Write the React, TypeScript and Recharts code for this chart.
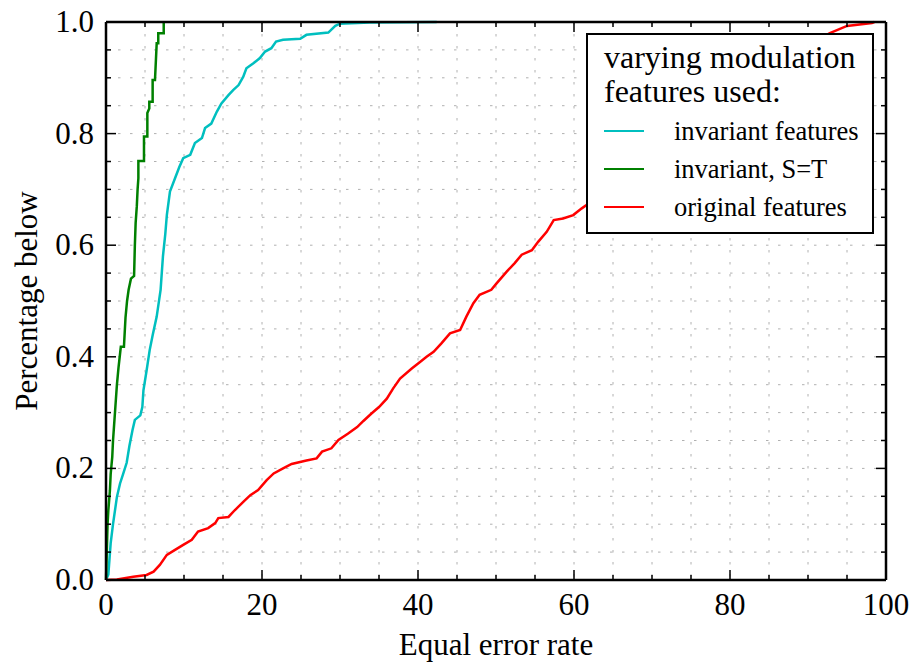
import React from 'react';
import { LineChart, Line, XAxis, YAxis, CartesianGrid, Legend, ReferenceLine } from 'recharts';

// cumulative share of trials whose equal error rate is below x
const invariantEer = [
  0, 0.3, 0.6, 0.9, 1.4, 1.8, 2.2, 2.65, 3.0, 3.4, 3.7, 4.4, 4.66, 4.8, 5.2, 5.6, 6.0, 6.5, 7.0, 7.3,
  7.6, 7.8, 8.2, 8.85, 9.4, 9.9, 10.8, 11.4, 12.3, 12.7, 13.5, 14.2, 14.8, 15.7, 16.3, 17.0, 17.6, 18.0,
  18.9, 19.7, 20.4, 21.2, 21.8, 22.7, 24.9, 25.7, 28.5, 29.4, 30.0, 33.8, 42.4,
];
const invariantFrac = [
  0, 0.01, 0.066, 0.1, 0.149, 0.173, 0.19, 0.21, 0.24, 0.269, 0.287, 0.295, 0.31, 0.34, 0.375, 0.412,
  0.44, 0.472, 0.52, 0.58, 0.62, 0.654, 0.696, 0.72, 0.74, 0.756, 0.762, 0.783, 0.792, 0.81, 0.818,
  0.839, 0.854, 0.869, 0.878, 0.887, 0.902, 0.917, 0.926, 0.935, 0.947, 0.953, 0.965, 0.968, 0.97,
  0.977, 0.981, 0.993, 0.997, 0.999, 1.0,
];

const invariantSTEer = [
  0, 0.1, 0.2, 0.3, 0.5, 0.6, 0.8, 0.9, 1.0, 1.2, 1.4, 1.6, 1.9, 2.3, 2.5, 2.7, 2.9, 3.2, 3.6, 3.7,
  3.8, 3.95, 4.05, 4.15, 4.15, 4.87, 4.87, 5.3, 5.3, 5.55, 5.55, 5.98, 5.98, 6.28, 6.5, 6.7, 6.7, 7.4,
  7.4,
];
const invariantSTFrac = [
  0, 0.05, 0.1, 0.125, 0.16, 0.19, 0.22, 0.25, 0.27, 0.31, 0.35, 0.38, 0.418, 0.418, 0.47, 0.5, 0.52,
  0.54, 0.545, 0.6, 0.64, 0.67, 0.7, 0.72, 0.751, 0.751, 0.795, 0.795, 0.837, 0.845, 0.857, 0.857,
  0.896, 0.896, 0.962, 0.962, 0.98, 0.98, 1.0,
];

const originalEer = [
  0, 1.4, 3.5, 5.2, 6.1, 6.9, 7.8, 8.85, 9.9, 11.0, 11.8, 13.1, 14.0, 14.4, 15.7, 16.5, 17.6, 18.5,
  19.5, 20.6, 21.5, 22.7, 23.8, 25.7, 27.0, 27.7, 28.9, 29.8, 31.0, 32.2, 33.0, 34.0, 35.0, 36.0, 36.8,
  37.7, 39.2, 40.3, 41.1, 42.0, 43.0, 44.1, 45.4, 46.2, 47.1, 47.9, 49.4, 50.1, 51.4, 52.4, 53.3, 54.6,
  55.4, 56.5, 57.4, 58.6, 59.9, 61.0, 61.6, 64.0, 68.0, 72.0, 76.0, 80.0, 84.0, 88.0, 91.5, 92.8, 95.0,
  98.2, 98.5,
];
const originalFrac = [
  0, 0.001, 0.006, 0.009, 0.015, 0.027, 0.045, 0.054, 0.063, 0.072, 0.087, 0.093, 0.102, 0.111, 0.113,
  0.125, 0.14, 0.152, 0.161, 0.179, 0.191, 0.2, 0.208, 0.214, 0.218, 0.23, 0.236, 0.251, 0.262, 0.274,
  0.285, 0.298, 0.31, 0.325, 0.343, 0.361, 0.379, 0.391, 0.4, 0.409, 0.424, 0.442, 0.448, 0.472, 0.496,
  0.511, 0.52, 0.532, 0.553, 0.568, 0.583, 0.591, 0.606, 0.624, 0.645, 0.648, 0.654, 0.666, 0.672, 0.7,
  0.74, 0.78, 0.82, 0.86, 0.9, 0.94, 0.97, 0.98, 0.993, 0.998, 1.0,
];

const xTicks = [0, 5, 10, 15, 20, 25, 30, 35, 40, 45, 50, 55, 60, 65, 70, 75, 80, 85, 90, 95, 100];
const xLabelled = [0, 20, 40, 60, 80, 100];
const yTicks = [
  0, 0.05, 0.1, 0.15, 0.2, 0.25, 0.3, 0.35, 0.4, 0.45, 0.5, 0.55, 0.6, 0.65, 0.7, 0.75, 0.8, 0.85, 0.9,
  0.95, 1.0,
];
const yLabelled = [0, 0.2, 0.4, 0.6, 0.8, 1.0];

const zip = (xs: number[], ys: number[]) => xs.map((x, i) => ({ x, y: ys[i] }));

const WIDTH = 912;
const HEIGHT = 662;
const MARGIN = { top: 22, right: 26, bottom: 22, left: 36 };
const Y_AXIS_W = 70;
const X_AXIS_H = 60;
const PLOT_W = WIDTH - MARGIN.left - MARGIN.right - Y_AXIS_W;
const PLOT_H = HEIGHT - MARGIN.top - MARGIN.bottom - X_AXIS_H;

const FONT = '"Liberation Serif", "Times New Roman", serif';
const TICK_FONT = 31;

// inward ticks on bottom + mirrored on top
const XTick = (props: any) => {
  const { x, y, payload } = props;
  const major = xLabelled.includes(payload.value);
  const len = major ? 10 : 5;
  return (
    <g>
      <line x1={x} y1={y} x2={x} y2={y - len} stroke="#000" strokeWidth={1.5} />
      <line x1={x} y1={y - PLOT_H} x2={x} y2={y - PLOT_H + len} stroke="#000" strokeWidth={1.5} />
      {major && (
        <text x={x} y={y + 35} textAnchor="middle" fontSize={TICK_FONT} fontFamily={FONT} fill="#000">
          {payload.value}
        </text>
      )}
    </g>
  );
};

// inward ticks on left + mirrored on right
const YTick = (props: any) => {
  const { x, y, payload } = props;
  const major = yLabelled.some((v) => Math.abs(v - payload.value) < 1e-9);
  const len = major ? 10 : 5;
  return (
    <g>
      <line x1={x} y1={y} x2={x + len} y2={y} stroke="#000" strokeWidth={1.5} />
      <line x1={x + PLOT_W} y1={y} x2={x + PLOT_W - len} y2={y} stroke="#000" strokeWidth={1.5} />
      {major && (
        <text x={x - 12} y={y + 10} textAnchor="end" fontSize={TICK_FONT} fontFamily={FONT} fill="#000">
          {payload.value.toFixed(1)}
        </text>
      )}
    </g>
  );
};

const XLabel = (props: any) => {
  const { viewBox } = props;
  return (
    <text x={viewBox.x + viewBox.width / 2} y={655} textAnchor="middle" fontSize={31} fontFamily={FONT} fill="#000">
      Equal error rate
    </text>
  );
};

const YLabel = (props: any) => {
  const { viewBox } = props;
  const cy = viewBox.y + viewBox.height / 2;
  return (
    <text
      x={37}
      y={cy}
      transform={`rotate(-90, 37, ${cy})`}
      textAnchor="middle"
      fontSize={31}
      fontFamily={FONT}
      fill="#000"
    >
      Percentage below
    </text>
  );
};

const LegendBox = (props: any) => {
  const payload = props.payload || [];
  return (
    <div
      style={{
        boxSizing: 'border-box',
        width: 288,
        height: 201,
        border: '2.5px solid #000',
        background: '#fff',
        padding: '5px 0 0 16px',
        fontFamily: FONT,
        color: '#000',
      }}
    >
      <div style={{ fontSize: 32, lineHeight: '34px' }}>
        varying modulation
        <br />
        features used:
      </div>
      <div style={{ marginTop: 4 }}>
        {payload.map((entry: any) => (
          <div key={entry.value} style={{ display: 'flex', alignItems: 'center', height: 38, fontSize: 26.5 }}>
            <span style={{ display: 'inline-block', width: 40, borderTop: `2.5px solid ${entry.color}`, marginRight: 30 }} />
            <span>{entry.value}</span>
          </div>
        ))}
      </div>
    </div>
  );
};

export default function App() {
  return (
    <div style={{ position: 'absolute', left: 0, top: 0, background: '#fff' }}>
      <LineChart width={WIDTH} height={HEIGHT} margin={MARGIN}>
        <CartesianGrid stroke="#b0b0b0" strokeDasharray="2.5 9.5" strokeWidth={1} />
        <XAxis
          type="number"
          dataKey="x"
          domain={[0, 100]}
          ticks={xTicks}
          interval={0}
          height={X_AXIS_H}
          tickSize={0}
          tickMargin={0}
          tickLine={false}
          tick={<XTick />}
          axisLine={{ stroke: '#000', strokeWidth: 2.5 }}
          label={<XLabel />}
        />
        <YAxis
          type="number"
          dataKey="y"
          domain={[0, 1]}
          ticks={yTicks}
          interval={0}
          width={Y_AXIS_W}
          tickSize={0}
          tickMargin={0}
          tickLine={false}
          tick={<YTick />}
          axisLine={{ stroke: '#000', strokeWidth: 2.5 }}
          label={<YLabel />}
        />
        <Line
          data={zip(invariantEer, invariantFrac)}
          dataKey="y"
          name="invariant features"
          type="linear"
          stroke="#00bfbf"
          strokeWidth={2.5}
          dot={false}
          isAnimationActive={false}
        />
        <Line
          data={zip(invariantSTEer, invariantSTFrac)}
          dataKey="y"
          name="invariant, S=T"
          type="linear"
          stroke="#008000"
          strokeWidth={2.5}
          dot={false}
          isAnimationActive={false}
        />
        <Line
          data={zip(originalEer, originalFrac)}
          dataKey="y"
          name="original features"
          type="linear"
          stroke="#ff0000"
          strokeWidth={2.5}
          dot={false}
          isAnimationActive={false}
        />
        <ReferenceLine y={1} stroke="#000" strokeWidth={2.5} />
        <ReferenceLine x={100} stroke="#000" strokeWidth={2.5} />
        <Legend
          layout="vertical"
          align="center"
          verticalAlign="middle"
          content={<LegendBox />}
          wrapperStyle={{ left: 586, top: 33, width: 288, height: 201 }}
        />
      </LineChart>
    </div>
  );
}
